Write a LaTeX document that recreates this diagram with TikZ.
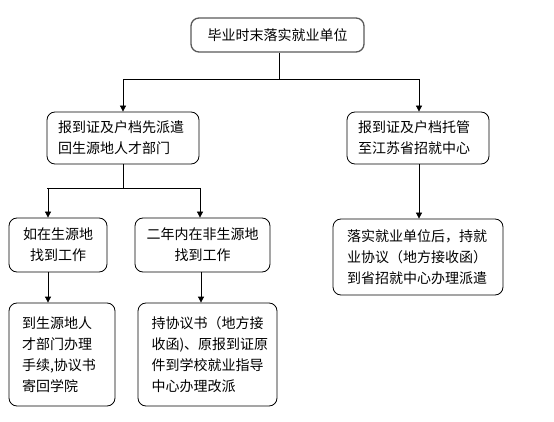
\documentclass[tikz,border=0pt]{standalone}
\usepackage{fontspec}
\newfontfamily\cjk{Noto Sans CJK SC}
\usetikzlibrary{arrows.meta}
\begin{document}
\begin{tikzpicture}[x=1pt,y=-1pt,
  box/.style={draw=black,line width=0.8pt,rounded corners=8pt,inner sep=0pt,
    font=\cjk\fontsize{14}{21}\selectfont},
  topbox/.style={box,draw=black!65,line width=1.3pt},
  conn/.style={line width=0.8pt},
  arr/.style={conn,-{Triangle[length=6pt,width=6pt]}}]
\useasboundingbox (0,0) rectangle (554,422);
\node[topbox,minimum width=173pt,minimum height=34pt] (top) at (277.5,35) {毕业时末落实就业单位};
\node[box,minimum width=152pt,minimum height=52pt,text width=130pt,align=left] (b1) at (123,138) {报到证及户档先派遣\\回生源地人才部门};
\node[box,minimum width=142pt,minimum height=52pt,text width=120pt,align=left] (b2) at (418,138) {报到证及户档托管\\至江苏省招就中心};
\node[box,minimum width=98pt,minimum height=54pt,text width=90pt,align=center] (c1) at (58,245) {如在生源地\\找到工作};
\node[box,minimum width=135pt,minimum height=54pt,text width=125pt,align=center] (c2) at (202.5,245) {二年内在非生源地\\找到工作};
\node[box,minimum width=170pt,minimum height=76pt,text width=142pt,align=left] (e) at (418,257) {落实就业单位后，持就\\业协议（地方接收函）\\到省招就中心办理派遣};
\node[box,minimum width=106pt,minimum height=103pt,text width=80pt,align=left] (d1) at (62,354.5) {到生源地人\\才部门办理\\手续,协议书\\寄回学院};
\node[box,minimum width=139pt,minimum height=103pt,text width=112pt,align=left] (d2) at (207.5,354.5) {持协议书（地方接\\收函)、原报到证原\\件到学校就业指导\\中心办理改派};
\coordinate (jt) at (279,79);
\coordinate (jl) at (48,188);
\coordinate (jr) at (200,188);
\draw[conn] (top.south -| jt) -- (jt);
\draw[arr] (jt) -| (b1.north);
\draw[arr] (jt) -| ([xshift=1pt]b2.north);
\draw[conn] (b1.south) -- (b1.south |- jl);
\draw[conn] ([xshift=-1pt]jl) -- (jr);
\draw[arr] (jl) -- (jl |- c1.north);
\draw[arr] (jr) -- (jr |- c2.north);
\draw[arr] ([xshift=1pt]b2.south) -- ([xshift=1pt]b2.south |- e.north);
\draw[arr] (jl |- c1.south) -- (jl |- d1.north);
\draw[arr] ([xshift=1pt]jr |- c2.south) -- ([xshift=1pt]jr |- d2.north);
\end{tikzpicture}
\end{document}
